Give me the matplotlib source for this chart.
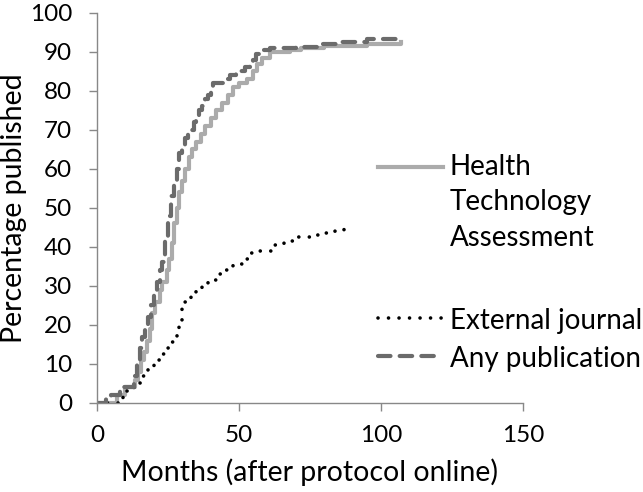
import matplotlib
matplotlib.use("Agg")
import matplotlib.pyplot as plt
from matplotlib.lines import Line2D

plt.rcParams["font.family"] = ["Lato", "DejaVu Sans"]

# Cumulative percentage published (step curves), months after protocol online
hta_months = [0, 7, 10, 13.5, 14.5, 15.5, 16.5, 17.5, 18.5, 19.5, 20.5, 22, 23, 24.5, 25.5,
              26.5, 27, 28, 29, 30, 31, 32.5, 33.5, 35, 36.5, 38, 40, 42, 44, 46, 48, 50,
              53, 55, 56.5, 58, 61, 68, 72, 80, 95, 107]
hta_pct = [0, 2, 4, 6, 8, 11, 13, 16, 19, 23, 26, 29, 31, 34, 37,
           41, 46, 50, 54, 57, 60, 63, 65, 67, 69, 71, 73, 75, 77, 79, 81, 82,
           83, 85, 87, 88.5, 90, 90.5, 91, 91.5, 92, 92.5]

ext_months = [0, 9, 13, 14, 16, 18, 20, 22, 24, 26, 28, 29, 30, 31, 33, 35, 37, 39,
              42, 45, 48, 51, 54, 57, 62, 66, 70, 75, 80, 84, 87]
ext_pct = [0, 3, 4, 5, 7, 9, 11, 12.5, 14, 15.5, 17.5, 21, 24, 26, 27.5, 29, 30, 31.5,
           33, 34, 35.5, 37, 38.5, 39, 40.5, 41.5, 42.5, 43, 43.5, 44, 44.5]

any_months = [0, 3, 5, 8, 13, 14, 15, 16, 17, 18, 19, 20, 21, 22, 23, 24, 25, 26, 27,
              28, 29, 30, 31, 32, 33, 34, 35, 36, 37, 38, 39, 40, 41, 45, 47, 49, 52,
              54, 55, 56, 58, 61, 70, 78, 85, 95, 107]
any_pct = [0, 1, 2, 4, 7, 10, 14, 17, 20, 22, 25, 28, 31, 34, 36, 42, 48, 53, 56,
           60, 64, 66, 68, 69, 70, 72, 73, 75, 76, 78, 79, 81, 82, 83, 84, 85, 86,
           87, 88, 89.5, 90.5, 91, 91.3, 92, 92.5, 93.3, 93.5]

labels = ["Health\nTechnology\nAssessment", "External journal", "Any publication"]

hta_color = "#ababab"
any_color = "#6b6b6b"
axis_color = "#888888"

hta_style = dict(color=hta_color, lw=3, ls="-")
ext_style = dict(color="black", lw=2.6, ls=(0, (0.01, 2.9)), dash_capstyle="round")
any_style = dict(color=any_color, lw=3, ls=(0, (3, 2.2)), dash_capstyle="round")

fig = plt.figure(figsize=(6.43, 4.92), dpi=100)
ax = fig.add_axes([0.151, 0.181, 0.662, 0.793])

ax.step(hta_months, hta_pct, where="post", **hta_style)
ax.step(ext_months, ext_pct, where="post", **ext_style)
ax.step(any_months, any_pct, where="post", **any_style)

ax.set_xlim(0, 150)
ax.set_ylim(0, 100)
ax.set_xticks([0, 50, 100, 150])
ax.set_yticks(range(0, 101, 10))
for s in ["top", "right"]:
    ax.spines[s].set_visible(False)
for s in ["left", "bottom"]:
    ax.spines[s].set_color(axis_color)
    ax.spines[s].set_linewidth(1)
ax.tick_params(colors=axis_color, labelcolor="black", labelsize=17.5, length=6, width=1)
ax.tick_params(axis="y", pad=12)
ax.tick_params(axis="x", pad=10)
ax.set_xlabel("Months (after protocol online)", fontsize=20.5, labelpad=9)
ax.set_ylabel("Percentage published", fontsize=20.5, labelpad=2)

# manual legend so the handle sits on the first line of the wrapped label
rows = [1 - 167 / 492, 1 - 318 / 492, 1 - 356 / 492]
x0, x1, xt = 378 / 643, 443 / 643, 450 / 643
for h, lab, y in zip([hta_style, ext_style, any_style], labels, rows):
    fig.add_artist(Line2D([x0, x1], [y, y], transform=fig.transFigure, **h))
    if "\n" in lab:
        fig.text(xt, y + 0.027, lab, fontsize=20, va="top", linespacing=1.45)
    else:
        fig.text(xt, y, lab, fontsize=20, va="center_baseline")

fig.savefig("out.png", dpi=100)
